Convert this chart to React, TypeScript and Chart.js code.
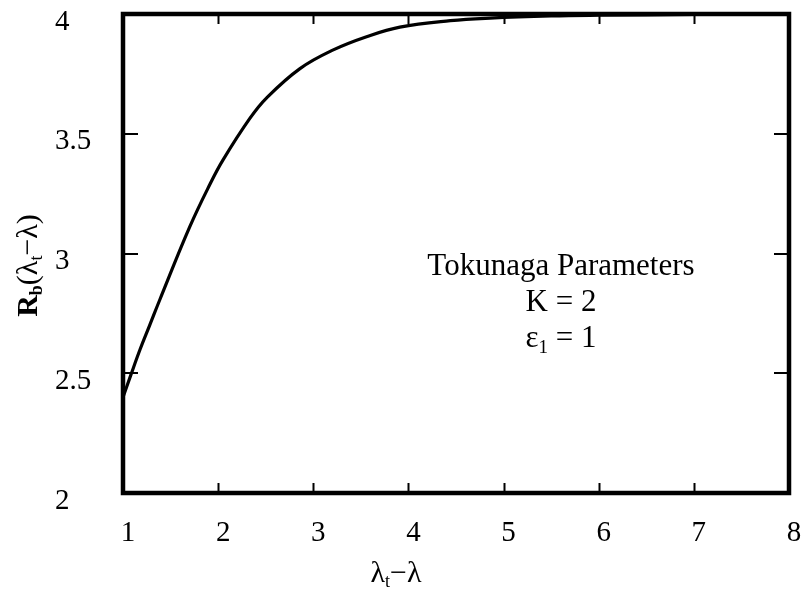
import React, { useEffect, useRef } from 'react';
import { Chart, registerables } from 'chart.js';

Chart.register(...registerables);

// Bifurcation ratio curve R_b as a function of λt − λ
const lambdaDiff = [1, 1.08, 1.18, 1.28, 1.39, 1.7, 1.915, 2.05, 2.335, 2.51, 2.86, 3.21, 3.56, 3.91, 4.44, 4.86, 5.5, 6, 7, 8];
const rbValues = [2.4, 2.49, 2.6, 2.7, 2.81, 3.11, 3.29, 3.39, 3.565, 3.65, 3.772, 3.85, 3.905, 3.945, 3.972, 3.983, 3.992, 3.995, 3.998, 4];

const xTickValues = [1, 2, 3, 4, 5, 6, 7, 8];
const yTickValues = [2, 2.5, 3, 3.5, 4];

type Seg = { t: string; sub?: boolean; bold?: boolean };

const xTitle: Seg[] = [{ t: 'λ' }, { t: 't', sub: true }, { t: '−λ' }];
const yTitle: Seg[] = [{ t: 'R', bold: true }, { t: 'b', sub: true, bold: true }, { t: '(λ' }, { t: 't', sub: true }, { t: '−λ)' }];
const noteLines: Seg[][] = [
  [{ t: 'Tokunaga Parameters' }],
  [{ t: 'K = 2' }],
  [{ t: 'ε' }, { t: '1', sub: true }, { t: ' = 1' }],
];

const FONT = '"Liberation Serif", "Times New Roman", serif';

function segFont(s: Seg, size: number) {
  const sz = s.sub ? Math.round(size * 0.6) : size;
  return `${s.bold ? 'bold ' : ''}${sz}px ${FONT}`;
}

function drawSegs(ctx: CanvasRenderingContext2D, segs: Seg[], cx: number, baseline: number, size: number) {
  let total = 0;
  const widths = segs.map((s) => {
    ctx.font = segFont(s, size);
    const w = ctx.measureText(s.t).width;
    total += w;
    return w;
  });
  let x = cx - total / 2;
  ctx.textAlign = 'left';
  ctx.textBaseline = 'alphabetic';
  segs.forEach((s, i) => {
    ctx.font = segFont(s, size);
    ctx.fillText(s.t, x, baseline + (s.sub ? size * 0.18 : 0));
    x += widths[i];
  });
}

const framePlugin = {
  id: 'frameTicksText',
  afterDatasetsDraw(chart: any) {
    const { ctx, chartArea: a, scales } = chart;
    const xs = scales.x;
    const ys = scales.y;
    ctx.save();
    ctx.strokeStyle = '#000';
    ctx.fillStyle = '#000';

    // inward tick marks on all four sides
    ctx.lineWidth = 2;
    ctx.beginPath();
    xTickValues.slice(1, -1).forEach((v) => {
      const px = Math.round(xs.getPixelForValue(v)) + 0.5;
      ctx.moveTo(px, a.bottom);
      ctx.lineTo(px, a.bottom - 10);
      ctx.moveTo(px, a.top);
      ctx.lineTo(px, a.top + 10);
    });
    yTickValues.slice(1, -1).forEach((v) => {
      const py = Math.round(ys.getPixelForValue(v));
      ctx.moveTo(a.left, py);
      ctx.lineTo(a.left + 15, py);
      ctx.moveTo(a.right, py);
      ctx.lineTo(a.right - 15, py);
    });
    ctx.stroke();

    // box frame
    ctx.lineWidth = 4.5;
    ctx.strokeRect(a.left, a.top, a.right - a.left, a.bottom - a.top);

    // axis titles
    drawSegs(ctx, xTitle, a.left + 273, 582, 30);
    ctx.save();
    ctx.translate(37, (a.top + a.bottom) / 2 + 12);
    ctx.rotate(-Math.PI / 2);
    drawSegs(ctx, yTitle, 0, 0, 30);
    ctx.restore();

    // parameter note
    const cx = a.left + 438;
    noteLines.forEach((line, i) => {
      drawSegs(ctx, line, cx, 275 + i * 36, 31);
    });
    ctx.restore();
  },
};

export default function App() {
  const canvasRef = useRef<HTMLCanvasElement>(null);

  useEffect(() => {
    document.body.style.margin = '0';
    const canvas = canvasRef.current;
    if (!canvas) return;
    const chart = new Chart(canvas, {
      type: 'scatter',
      data: {
        datasets: [
          {
            data: lambdaDiff.map((x, i) => ({ x, y: rbValues[i] })),
            showLine: true,
            borderColor: '#000',
            borderWidth: 3.2,
            pointRadius: 0,
            tension: 0.4,
            fill: false,
          },
        ],
      },
      options: {
        responsive: false,
        animation: false,
        devicePixelRatio: 1,
        layout: { padding: { left: 55, top: 14, right: 18, bottom: 0 } },
        plugins: { legend: { display: false }, tooltip: { enabled: false } },
        scales: {
          x: {
            type: 'linear',
            min: 1,
            max: 8,
            afterBuildTicks: (s: any) => {
              s.ticks = xTickValues.map((v) => ({ value: v }));
            },
            afterFit: (s: any) => {
              s.height = 97;
              s.paddingLeft = 0;
              s.paddingRight = 0;
            },
            grid: { display: true, drawOnChartArea: false, drawTicks: false, color: 'rgba(0,0,0,0)' },
            border: { display: false },
            ticks: {
              color: '#000',
              font: { family: FONT, size: 29 },
              padding: 23,
              labelOffset: 5,
              maxRotation: 0,
              callback: (v: any) => String(v),
            },
          },
          y: {
            type: 'linear',
            min: 2,
            max: 4,
            afterBuildTicks: (s: any) => {
              s.ticks = yTickValues.map((v) => ({ value: v }));
            },
            afterFit: (s: any) => {
              s.width = 68;
              s.paddingTop = 0;
              s.paddingBottom = 0;
            },
            grid: { display: true, drawOnChartArea: false, drawTicks: false, color: 'rgba(0,0,0,0)' },
            border: { display: false },
            ticks: {
              color: '#000',
              font: { family: FONT, size: 29 },
              crossAlign: 'far',
              padding: 30,
              labelOffset: 8,
              callback: (v: any) => String(v),
            },
          },
        },
      },
      plugins: [framePlugin],
    } as any);
    return () => chart.destroy();
  }, []);

  return (
    <div style={{ width: 807, height: 590 }}>
      <canvas ref={canvasRef} width={807} height={590} style={{ display: 'block' }} />
    </div>
  );
}
